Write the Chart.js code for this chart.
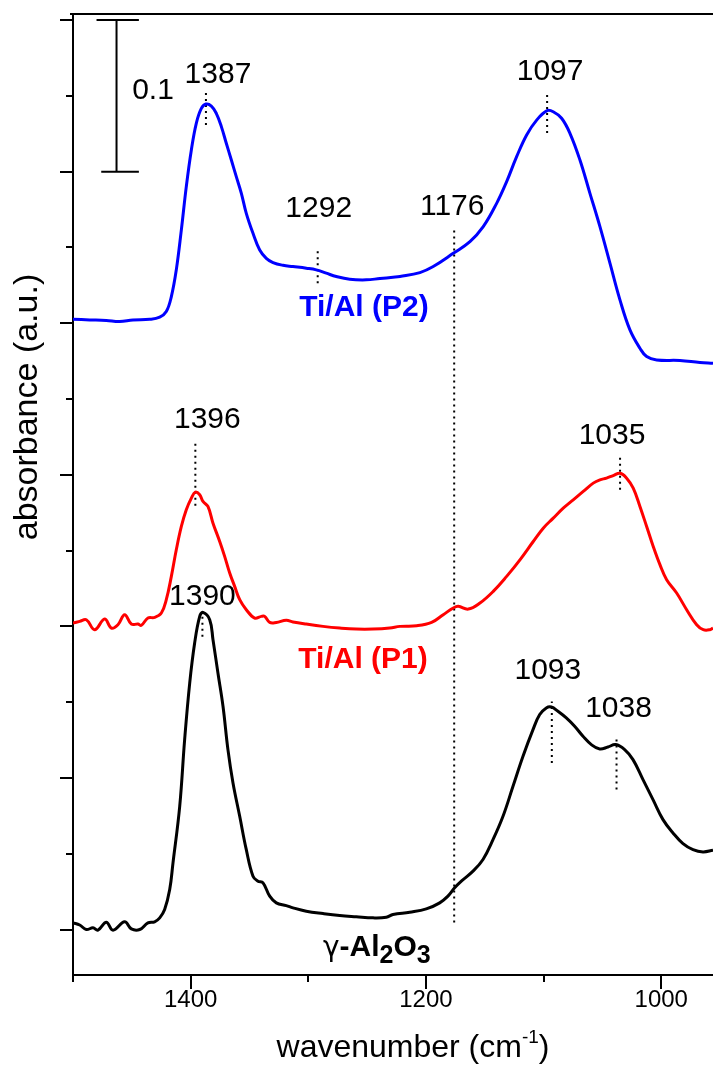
<!DOCTYPE html>
<html>
<head>
<meta charset="utf-8">
<style>
  html, body { margin: 0; padding: 0; background: #ffffff; }
  canvas { display: block; }
</style>
<script src="https://cdn.jsdelivr.net/npm/chart.js@4.4.1/dist/chart.umd.min.js"></script>
</head>
<body>
<canvas id="ir" width="713" height="1066"></canvas>
<script>
// ---- spectra (wavenumber in cm-1, absorbance with vertical offsets) ----
const wnAl2O3 = [1500,1494.3,1488.7,1483.0,1478.8,1471.7,1466.0,1456.1,1450.4,1443.3,1436.3,1430.6,1426.3,1422.1,1417.8,1415.0,1409.3,1405.1,1400.8,1396.6,1392.3,1389.5,1383.8,1381.0,1376.8,1372.5,1368.3,1364.0,1358.3,1352.7,1347.0,1342.8,1338.5,1332.8,1327.2,1318.7,1313.0,1301.7,1287.5,1273.3,1259.2,1245.0,1233.7,1228.0,1213.8,1199.7,1188.3,1181.3,1175.6,1169.9,1160.0,1151.5,1143.0,1134.5,1126.0,1117.5,1109.0,1103.3,1097.7,1093.4,1087.8,1080.7,1073.6,1066.5,1059.4,1052.3,1045.3,1038.7,1031.1,1024.0,1015.5,1007.0,998.5,990.0,981.5,973.0,964.5,956.0];
const absAl2O3 = [0.0044,0.0030,0.0000,0.0011,-0.0004,0.0048,-0.0004,0.0051,0.0004,0.0000,0.0044,0.0051,0.0077,0.0132,0.0264,0.0440,0.0813,0.1253,0.1626,0.1890,0.2066,0.2092,0.2044,0.1912,0.1692,0.1473,0.1187,0.0967,0.0747,0.0527,0.0352,0.0319,0.0308,0.0220,0.0176,0.0158,0.0143,0.0121,0.0105,0.0092,0.0084,0.0077,0.0081,0.0099,0.0114,0.0136,0.0176,0.0220,0.0275,0.0319,0.0385,0.0462,0.0593,0.0747,0.0945,0.1143,0.1319,0.1418,0.1462,0.1468,0.1440,0.1396,0.1341,0.1275,0.1220,0.1191,0.1204,0.1220,0.1187,0.1121,0.0989,0.0857,0.0725,0.0637,0.0567,0.0527,0.0512,0.0523];

const wnP1 = [1500,1494.3,1488.7,1481.6,1473.1,1467.4,1461.8,1456.1,1450.4,1444.8,1441.9,1436.3,1430.6,1424.9,1420.7,1416.4,1412.2,1407.9,1403.7,1399.4,1396.0,1392.3,1389.5,1385.3,1381.0,1375.3,1371.1,1366.8,1362.6,1358.3,1352.7,1345.6,1339.9,1337.1,1332.8,1327.2,1318.7,1313.0,1301.7,1287.5,1273.3,1259.2,1245.0,1230.8,1222.1,1207.9,1195.2,1185.3,1176.8,1172.5,1164.0,1154.1,1142.8,1131.4,1120.1,1108.8,1100.3,1091.8,1083.3,1074.8,1066.3,1057.8,1052.1,1046.5,1040.8,1035.0,1029.4,1023.8,1018.1,1012.4,1006.8,1001.1,995.4,986.9,978.4,969.9,964.3,958.6,956.0];
const absP1 = [0.2022,0.2033,0.2044,0.1978,0.2048,0.1989,0.2011,0.2077,0.2015,0.2015,0.2007,0.2055,0.2059,0.2088,0.2176,0.2330,0.2505,0.2659,0.2769,0.2846,0.2886,0.2868,0.2824,0.2791,0.2681,0.2560,0.2462,0.2352,0.2264,0.2176,0.2110,0.2055,0.2066,0.2066,0.2026,0.2026,0.2040,0.2029,0.2015,0.2000,0.1989,0.1982,0.1982,0.1989,0.2000,0.2004,0.2026,0.2077,0.2121,0.2132,0.2114,0.2154,0.2231,0.2330,0.2439,0.2560,0.2648,0.2714,0.2780,0.2835,0.2890,0.2945,0.2967,0.2978,0.2995,0.3010,0.2978,0.2912,0.2791,0.2659,0.2527,0.2407,0.2308,0.2220,0.2110,0.2011,0.1978,0.1978,0.1989];

const wnP2 = [1500,1485.8,1471.7,1460.3,1449.0,1434.8,1426.3,1420.7,1416.4,1412.2,1407.9,1403.7,1399.4,1395.2,1390.9,1387.0,1382.4,1378.2,1373.9,1369.7,1365.4,1361.2,1356.9,1352.7,1347.0,1341.3,1335.7,1330.0,1321.5,1313.0,1301.7,1293.2,1284.7,1276.2,1264.8,1250.7,1239.1,1228.0,1222.1,1205.1,1193.8,1176.8,1162.6,1151.3,1139.9,1131.4,1122.9,1114.4,1105.9,1097.0,1091.8,1084.7,1077.6,1069.1,1060.6,1052.1,1043.6,1035.1,1026.6,1018.1,1012.4,1003.9,984.1,967.1,956.0];
const absP2 = [0.4026,0.4022,0.4018,0.4011,0.4022,0.4026,0.4040,0.4077,0.4176,0.4352,0.4616,0.4901,0.5143,0.5319,0.5417,0.5446,0.5433,0.5385,0.5297,0.5187,0.5077,0.4967,0.4857,0.4725,0.4593,0.4483,0.4428,0.4400,0.4382,0.4374,0.4363,0.4352,0.4330,0.4308,0.4290,0.4286,0.4295,0.4303,0.4308,0.4334,0.4374,0.4461,0.4538,0.4637,0.4791,0.4934,0.5099,0.5242,0.5340,0.5402,0.5395,0.5352,0.5253,0.5077,0.4857,0.4637,0.4396,0.4154,0.3956,0.3835,0.3780,0.3758,0.3754,0.3741,0.3736];

// ---- peak assignments ----
const peakWavenumbers = [1387, 1292, 1176, 1097, 1396, 1035, 1390, 1093, 1038];
const peakLabels = ['1387', '1292', '1176', '1097', '1396', '1035', '1390', '1093', '1038'];

// ---- axis ticks ----
const xTickValues = [1500, 1400, 1300, 1200, 1100, 1000];
const xTickLabels = ['', '1400', '', '1200', '', '1000'];
const yTickValues = [0, 0.05, 0.1, 0.15, 0.2, 0.25, 0.3, 0.35, 0.4, 0.45, 0.5, 0.55, 0.6];

// ---- absorbance scale bar (0.1 units) ----
const scaleBarSize = 0.1;
const scaleBarLabel = '0.1';

// ---- layout of the dotted peak markers and their labels ----
const markerLayout = [
  { from: 0.5307, to: 0.5519, labelY: 0.5585, dx: 12 },
  { from: 0.4263, to: 0.4479, labelY: 0.4701, dx: 1 },
  { from: 0.0046, to: 0.4615, labelY: 0.4714, dx: -2 },
  { from: 0.5255, to: 0.5519, labelY: 0.5605, dx: 3 },
  { from: 0.2796, to: 0.3204, labelY: 0.3309, dx: 12 },
  { from: 0.2901, to: 0.3119, labelY: 0.3203, dx: -8 },
  { from: 0.1932, to: 0.2064, labelY: 0.2141, dx: 0 },
  { from: 0.1099, to: 0.1505, labelY: 0.1653, dx: -4 },
  { from: 0.0923, to: 0.1275, labelY: 0.1402, dx: 2 }
];
const scaleBarLayout = { x: 1463, capLeft: 1480, capLeftLow: 1476, capRight: 1444, top: 0.6, labelX: 1432, labelY: 0.5479 };

const FONT = '"Liberation Sans", Arial, Helvetica, sans-serif';

const toXY = (xs, ys) => xs.map((x, i) => ({ x: x, y: ys[i] }));

const spectrum = (label, xs, ys, color) => ({
  label: label,
  data: toXY(xs, ys),
  borderColor: color,
  borderWidth: 3,
  pointRadius: 0,
  fill: false,
  tension: 0.4,
  borderJoinStyle: 'round'
});

const markerSets = peakWavenumbers.map((wn, i) => ({
  label: 'peak ' + peakLabels[i],
  data: [{ x: wn, y: markerLayout[i].from }, { x: wn, y: markerLayout[i].to }],
  borderColor: '#000',
  borderWidth: 2,
  borderDash: [2, 4],
  pointRadius: 0,
  tension: 0,
  fill: false
}));

const sb = scaleBarLayout;
const scaleBarSet = {
  label: 'scale bar',
  data: [
    { x: sb.capLeft, y: sb.top }, { x: sb.capRight, y: sb.top }, { x: sb.x, y: sb.top },
    { x: sb.x, y: sb.top - scaleBarSize }, { x: sb.capLeftLow, y: sb.top - scaleBarSize },
    { x: sb.capRight, y: sb.top - scaleBarSize }
  ],
  borderColor: '#000',
  borderWidth: 2,
  pointRadius: 0,
  tension: 0,
  fill: false
};

// series names and their anchors
const seriesLabels = [
  { text: 'Ti/Al (P2)', color: '#0000ff', x: 1252.7, y: 0.4048 },
  { text: 'Ti/Al (P1)', color: '#ff0000', x: 1253.5, y: 0.1725 }
];
const aluminaLabel = { x: 1287.5, y: -0.0175 };

const decorations = {
  id: 'decorations',
  afterDraw(chart) {
    const { ctx, chartArea: a, scales: { x, y } } = chart;
    ctx.save();
    ctx.strokeStyle = '#000';
    ctx.fillStyle = '#000';
    ctx.lineWidth = 2;

    // frame line along the top
    ctx.beginPath();
    ctx.moveTo(a.left - 3, a.top);
    ctx.lineTo(a.right, a.top);
    ctx.stroke();

    // x ticks (long at labelled values)
    xTickValues.forEach((v, i) => {
      const px = Math.round(x.getPixelForValue(v));
      const len = xTickLabels[i] ? 14 : 7;
      ctx.beginPath();
      ctx.moveTo(px, a.bottom);
      ctx.lineTo(px, a.bottom + len);
      ctx.stroke();
    });

    // y ticks (long every 0.1)
    yTickValues.forEach((v, i) => {
      const py = Math.round(y.getPixelForValue(v));
      const len = i % 2 === 0 ? 13 : 7;
      ctx.beginPath();
      ctx.moveTo(a.left, py);
      ctx.lineTo(a.left - len, py);
      ctx.stroke();
    });

    // peak labels
    ctx.font = '30px ' + FONT;
    ctx.textAlign = 'center';
    ctx.textBaseline = 'alphabetic';
    peakWavenumbers.forEach((wn, i) => {
      const m = markerLayout[i];
      ctx.fillText(peakLabels[i], x.getPixelForValue(wn) + m.dx, y.getPixelForValue(m.labelY));
    });

    // scale bar label
    ctx.fillText(scaleBarLabel, x.getPixelForValue(sb.labelX), y.getPixelForValue(sb.labelY));

    // series names
    ctx.font = 'bold 30px ' + FONT;
    seriesLabels.forEach(s => {
      ctx.fillStyle = s.color;
      ctx.fillText(s.text, x.getPixelForValue(s.x), y.getPixelForValue(s.y));
    });

    // gamma-Al2O3 with subscripts
    ctx.fillStyle = '#000';
    ctx.textAlign = 'left';
    let cx = x.getPixelForValue(aluminaLabel.x);
    const by = y.getPixelForValue(aluminaLabel.y);
    const parts = [
      { t: '\u03b3', f: '28px "DejaVu Sans", ' + FONT, dy: 0 },
      { t: '-Al', f: 'bold 30px ' + FONT, dy: 0 },
      { t: '2', f: 'bold 25px ' + FONT, dy: 7 },
      { t: 'O', f: 'bold 30px ' + FONT, dy: 0 },
      { t: '3', f: 'bold 25px ' + FONT, dy: 7 }
    ];
    parts.forEach(p => {
      ctx.font = p.f;
      ctx.fillText(p.t, cx, by + p.dy);
      cx += ctx.measureText(p.t).width;
    });

    // x axis title with superscript
    const xt = [
      { t: 'wavenumber (cm', f: '32px ' + FONT, dy: 0 },
      { t: '-1', f: '19px ' + FONT, dy: -14 },
      { t: ')', f: '32px ' + FONT, dy: 0 }
    ];
    let total = 0;
    xt.forEach(p => { ctx.font = p.f; total += ctx.measureText(p.t).width; });
    let tx = 413 - total / 2;
    const tb = 1057;
    xt.forEach(p => {
      ctx.font = p.f;
      ctx.fillText(p.t, tx, tb + p.dy);
      tx += ctx.measureText(p.t).width;
    });

    // y axis title
    ctx.save();
    ctx.translate(37, 407);
    ctx.rotate(-Math.PI / 2);
    ctx.textAlign = 'center';
    ctx.font = '34px ' + FONT;
    ctx.fillText('absorbance (a.u.)', 0, 0);
    ctx.restore();

    ctx.restore();
  }
};

new Chart(document.getElementById('ir'), {
  type: 'line',
  data: {
    datasets: [
      spectrum('Ti/Al (P2)', wnP2, absP2, '#0000ff'),
      spectrum('Ti/Al (P1)', wnP1, absP1, '#ff0000'),
      spectrum('\u03b3-Al2O3', wnAl2O3, absAl2O3, '#000000'),
      ...markerSets,
      scaleBarSet
    ]
  },
  options: {
    responsive: false,
    animation: false,
    devicePixelRatio: 1,
    layout: { padding: { left: 0, right: 0, top: 14, bottom: 0 } },
    plugins: { legend: { display: false }, tooltip: { enabled: false } },
    events: [],
    scales: {
      x: {
        type: 'linear',
        reverse: true,
        min: 956,
        max: 1500,
        afterBuildTicks: s => { s.ticks = xTickValues.map(v => ({ value: v })); },
        afterFit: s => { s.height = 91; },
        ticks: {
          autoSkip: false,
          maxRotation: 0,
          padding: 11,
          color: '#000',
          font: { family: FONT, size: 24 },
          callback: v => { const i = xTickValues.indexOf(v); return i >= 0 ? xTickLabels[i] : ''; }
        },
        grid: { display: false, drawTicks: false },
        border: { display: true, color: '#000', width: 2 }
      },
      y: {
        type: 'linear',
        min: -0.03,
        max: 0.604,
        afterFit: s => { s.width = 73; },
        ticks: { display: false },
        grid: { display: false, drawTicks: false },
        border: { display: true, color: '#000', width: 2 }
      }
    }
  },
  plugins: [decorations]
});
</script>
</body>
</html>
